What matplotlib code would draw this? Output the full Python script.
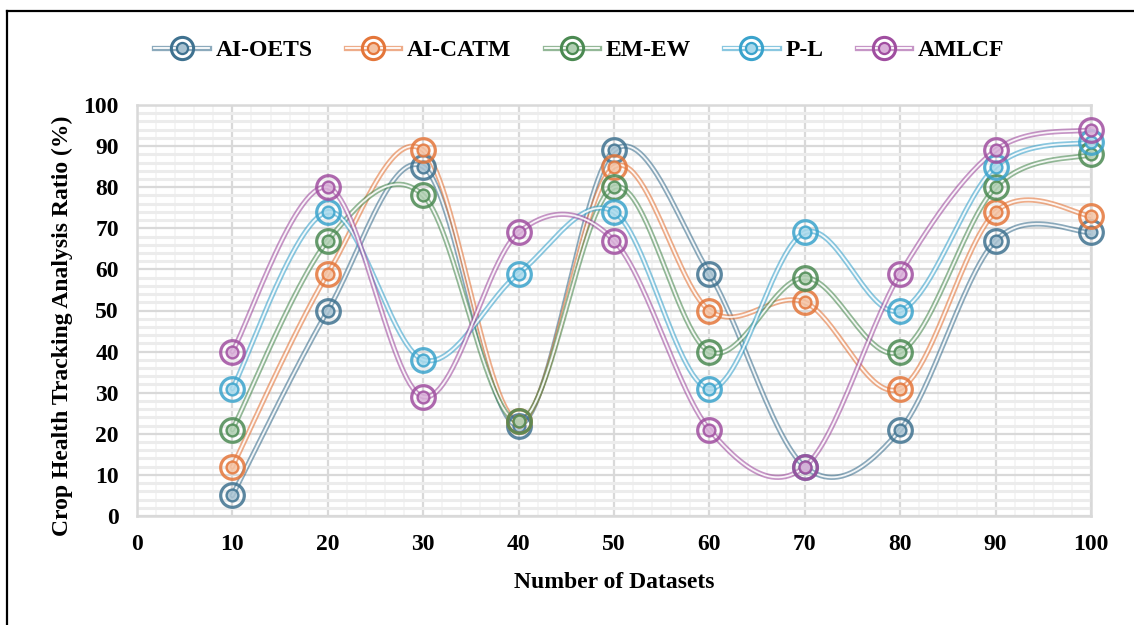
import numpy as np
import matplotlib
matplotlib.use("Agg")
import matplotlib.pyplot as plt
from matplotlib.lines import Line2D
from matplotlib.legend_handler import HandlerTuple

datasets = [10, 20, 30, 40, 50, 60, 70, 80, 90, 100]
ai_oets = [5, 50, 85, 22, 89, 59, 12, 21, 67, 69]
ai_catm = [12, 59, 89, 23, 85, 50, 52, 31, 74, 73]
em_ew = [21, 67, 78, 23, 80, 40, 58, 40, 80, 88]
p_l = [31, 74, 38, 59, 74, 31, 69, 50, 85, 91]
amlcf = [40, 80, 29, 69, 67, 21, 12, 59, 89, 94]

names = ["AI-OETS", "AI-CATM", "EM-EW", "P-L", "AMLCF"]
colors = ["#3f7290", "#e4763a", "#4b8a52", "#3aa3cc", "#a04ea0"]
light = ["#a9c3d2", "#f4c3a4", "#b1d0b3", "#a8d9ec", "#d9b0d9"]

plt.rcParams["font.family"] = ["Liberation Serif", "DejaVu Serif"]
plt.rcParams["font.weight"] = "bold"


def smooth(xs, ys, n=30):
    # excel-style smoothed line (uniform catmull-rom through the points)
    p = np.column_stack([xs, ys]).astype(float)
    p = np.vstack([p[0], p, p[-1]])
    out = []
    t = np.linspace(0, 1, n)
    for i in range(1, len(p) - 2):
        p0, p1, p2, p3 = p[i - 1], p[i], p[i + 1], p[i + 2]
        c1 = p1 + (p2 - p0) / 6
        c2 = p2 - (p3 - p1) / 6
        tt = t[:, None]
        seg = ((1 - tt) ** 3) * p1 + 3 * ((1 - tt) ** 2) * tt * c1 \
            + 3 * (1 - tt) * tt ** 2 * c2 + tt ** 3 * p2
        out.append(seg if i == 1 else seg[1:])
    seg = np.vstack(out)
    return seg[:, 0], seg[:, 1]


fig = plt.figure(figsize=(11.34, 6.25), dpi=100)
ax = fig.add_axes([0.1208, 0.1744, 0.8413, 0.6576])

ax.set_xlim(0, 100)
ax.set_ylim(0, 100)
ax.set_xticks(range(0, 101, 10))
ax.set_yticks(range(0, 101, 10))
ax.set_xticks(range(0, 101, 2), minor=True)
ax.set_yticks(range(0, 101, 2), minor=True)
ax.grid(which="minor", axis="y", color="#ececec", lw=2.2)
ax.grid(which="minor", axis="x", color="#f3f3f3", lw=1.2)
ax.grid(which="major", color="#d9d9d9", lw=1.6)
ax.set_axisbelow(True)
for s in ax.spines.values():
    s.set_color("#d9d9d9")
    s.set_linewidth(1.8)
ax.tick_params(which="both", length=0, labelsize=17, pad=13)

series = [ai_oets, ai_catm, em_ew, p_l, amlcf]
handles = []
for vals, name, c, lc in zip(series, names, colors, light):
    sx, sy = smooth(datasets, vals)
    ax.plot(sx, sy, color=c, lw=3.8, alpha=0.6, solid_capstyle="round", zorder=3)
    ax.plot(sx, sy, color="white", lw=1.3, alpha=0.9, zorder=3)
    ax.plot(datasets, vals, ls="none", marker="o", ms=17, mfc="none",
            mec=c, mew=2.3, alpha=0.85, zorder=4, clip_on=False)
    ax.plot(datasets, vals, ls="none", marker="o", ms=8.5, mfc=lc,
            mec=c, mew=1.7, alpha=0.85, zorder=4, clip_on=False)
    h1 = Line2D([], [], color=c, lw=3.8, alpha=0.6)
    h2 = Line2D([], [], color="white", lw=1.3)
    h3 = Line2D([], [], ls="none", marker="o", ms=16, mfc="none", mec=c, mew=2.2)
    h4 = Line2D([], [], ls="none", marker="o", ms=8, mfc=lc, mec=c, mew=1.6)
    handles.append((h1, h2, h3, h4))

fig.legend(handles, names, handler_map={tuple: HandlerTuple(ndivide=1, pad=0)},
           loc="center", bbox_to_anchor=(0.511, 0.92), ncol=5, frameon=False,
           fontsize=17, handlelength=2.3, columnspacing=1.4, handletextpad=0.3)

ax.set_xlabel("Number of Datasets", fontsize=17, fontweight="bold", labelpad=12)
ax.set_ylabel("Crop Health Tracking Analysis Ratio (%)", fontsize=17,
              fontweight="bold")
ax.yaxis.set_label_coords(-0.067, 0.462)

fig.add_artist(Line2D([7 / 1134, 7 / 1134], [0, 1 - 11 / 625], color="black", lw=1.6))
fig.add_artist(Line2D([7 / 1134, 1], [1 - 11 / 625, 1 - 11 / 625], color="black", lw=1.6))

fig.savefig("out.png", dpi=100)
